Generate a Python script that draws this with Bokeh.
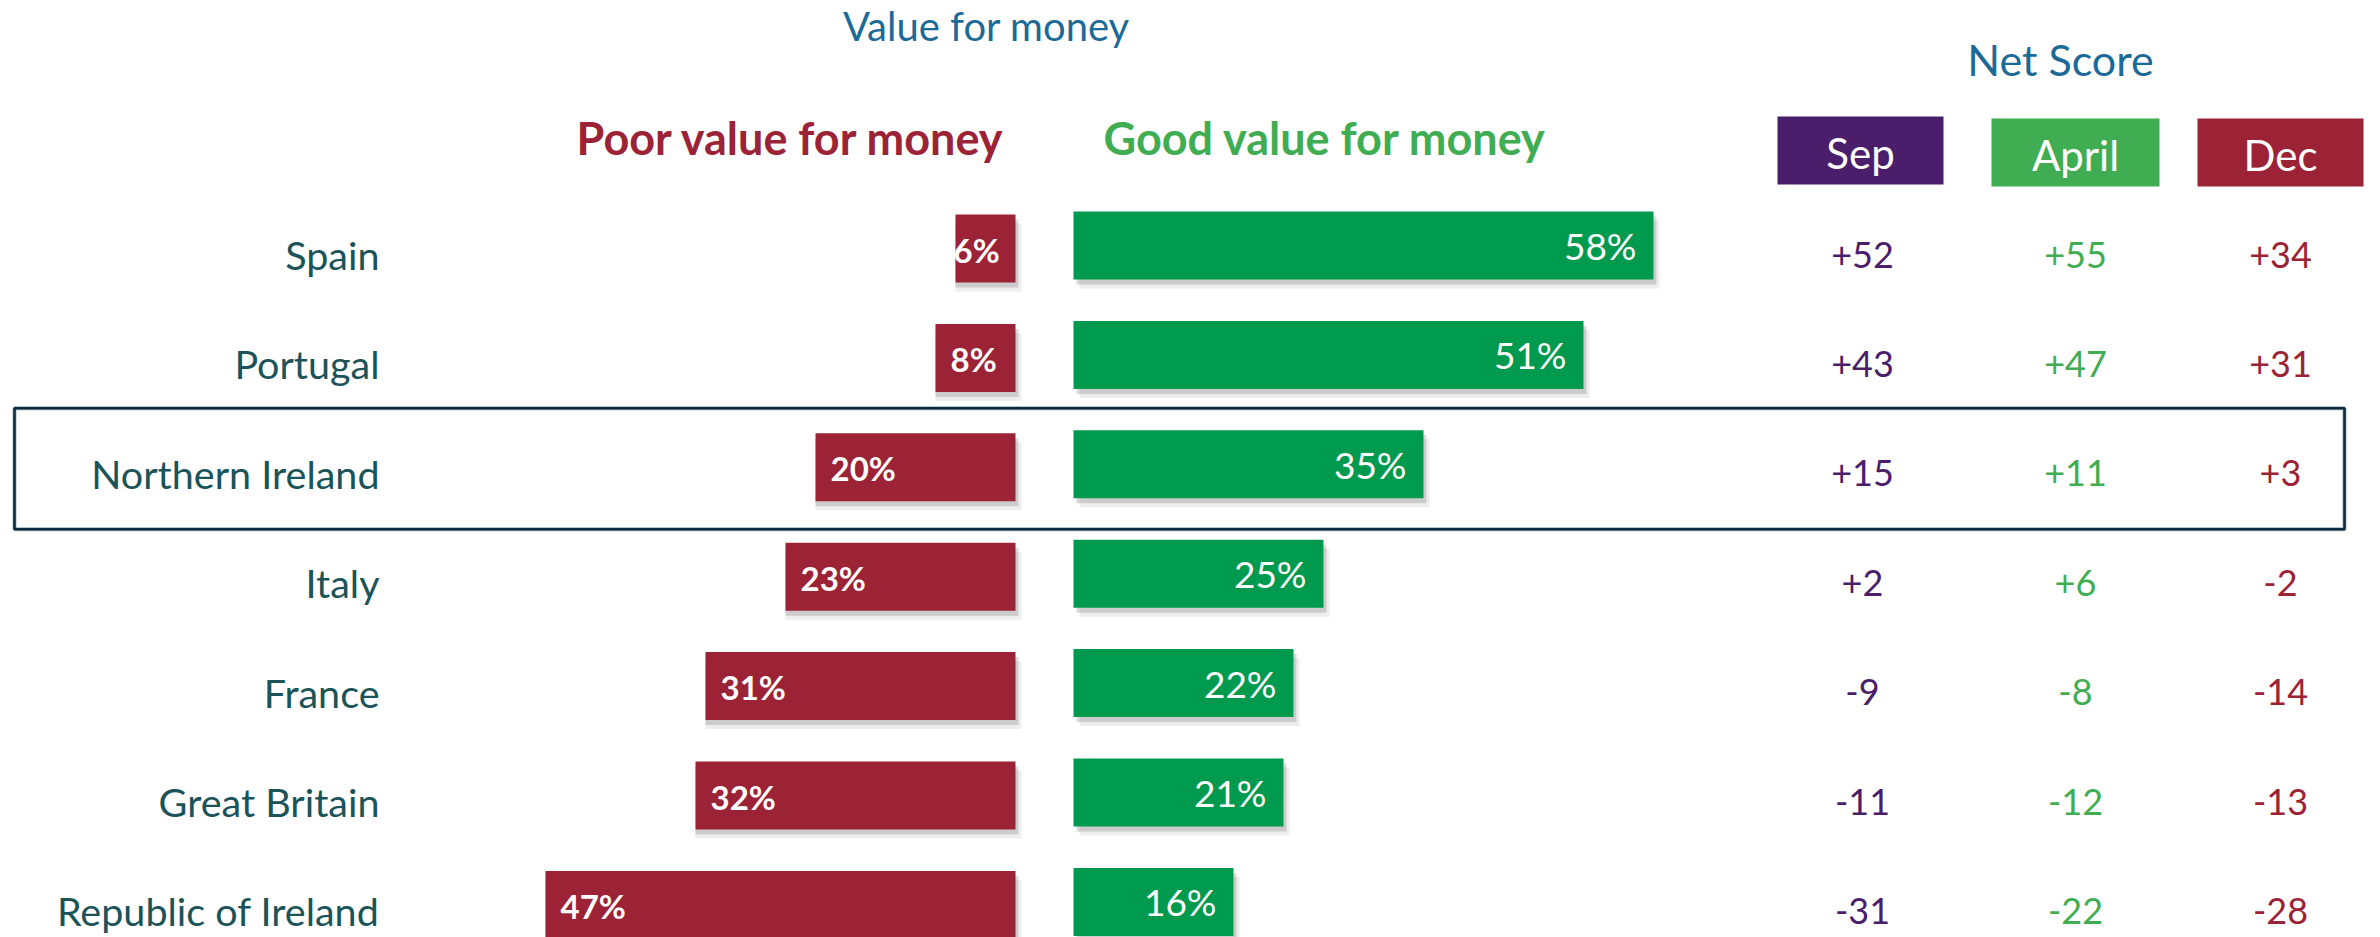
from bokeh.plotting import figure
from bokeh.models import Range1d, ColumnDataSource
from bokeh.core.properties import value
from bokeh.embed import file_html
from bokeh.resources import INLINE

# ---------------- data ----------------
countries = ["Spain", "Portugal", "Northern Ireland", "Italy", "France",
             "Great Britain", "Republic of Ireland"]
poor = [6, 8, 20, 23, 31, 32, 47]
good = [58, 51, 35, 25, 22, 21, 16]
periods = ["Sep", "April", "Dec"]
net_sep = [52, 43, 15, 2, -9, -11, -31]
net_april = [55, 47, 11, 6, -8, -12, -22]
net_dec = [34, 31, 3, -2, -14, -13, -28]
highlight = "Northern Ireland"

# ---------------- layout helpers ----------------
W, H = 2380, 937
PX_X = 10.0      # px per percentage point
PX_Y = 109.4     # px per row
X0 = 1015.0      # screen x of the divider (right edge of red bars)
Y0 = 248.0       # screen y of first row centre
OFF = 0.0        # figure origin on the page
TB = -13         # correction for text baseline placement (px)


def dx(px):
    return px / PX_X


def dy(px):
    return px / PX_Y


def sx(screen_x):
    return (screen_x - X0) / PX_X


def sy(screen_y):
    return (screen_y - Y0) / PX_Y


FONT = value("Lato")
RED = "#9C2236"
GREEN_BAR = "#009A4E"
GREEN = "#41AD52"
PURPLE = "#4A1E6B"
BLUE = "#1C6A97"
TEAL = "#1A5358"
NAVY = "#0E2A3A"

GAP = dx(58)
BAR_H = dy(68)
G_SHIFT = dy(-3)

p = figure(width=W, height=H,
           x_range=Range1d(sx(OFF), sx(OFF + W)),
           y_range=Range1d(sy(OFF + H), sy(OFF)),
           output_backend="svg", toolbar_location=None,
           x_axis_location=None, y_axis_location=None, min_border=0)
p.grid.visible = False
p.outline_line_color = None
p.background_fill_color = "white"

rows = list(range(len(countries)))
poor_left = [-v for v in poor]
src = ColumnDataSource(dict(
    y=rows,
    country=countries,
    poor_lbl=[f"{v}%" for v in poor],
    good_lbl=[f"{v}%" for v in good],
    poor_lbl_x=[-v + dx(min(15, v * PX_X - 62)) for v in poor],
    good_lbl_x=[GAP + v - dx(17) for v in good],
    y_base=[r + dy(19 + TB) for r in rows],
    y_lbl=[r + dy(14 + TB) for r in rows],
    yg_lbl=[r + G_SHIFT + dy(13 + TB) for r in rows],
))

# shadows
for ox, oy, a in [(3, 5, 0.22), (6, 9, 0.10)]:
    p.quad(left=poor_left, right=[dx(ox)] * len(rows),
           top=[r - BAR_H / 2 + dy(oy) for r in rows],
           bottom=[r + BAR_H / 2 + dy(oy) for r in rows],
           fill_color="#555555", fill_alpha=a, line_color=None)
    p.quad(left=[GAP + dx(ox)] * len(rows), right=[GAP + v + dx(ox) for v in good],
           top=[r + G_SHIFT - BAR_H / 2 + dy(oy) for r in rows],
           bottom=[r + G_SHIFT + BAR_H / 2 + dy(oy) for r in rows],
           fill_color="#555555", fill_alpha=a, line_color=None)

# bars
p.quad(left=poor_left, right=[0] * len(rows),
       top=[r - BAR_H / 2 for r in rows], bottom=[r + BAR_H / 2 for r in rows],
       fill_color=RED, line_color=None)
p.quad(left=[GAP] * len(rows), right=[GAP + v for v in good],
       top=[r + G_SHIFT - BAR_H / 2 for r in rows],
       bottom=[r + G_SHIFT + BAR_H / 2 for r in rows],
       fill_color=GREEN_BAR, line_color=None)

# bar labels
p.text(x="poor_lbl_x", y="y_lbl", text="poor_lbl", source=src,
       text_color="white", text_font=FONT, text_font_style="bold",
       text_font_size="33px", text_align="left", text_baseline="alphabetic")
p.text(x="good_lbl_x", y="yg_lbl", text="good_lbl", source=src,
       text_color="white", text_font=FONT, text_font_style="normal",
       text_font_size="37px", text_align="right", text_baseline="alphabetic")

# country labels
p.text(x=sx(379), y="y_base", text="country", source=src,
       text_color=TEAL, text_font=FONT, text_font_size="39.5px",
       text_align="right", text_baseline="alphabetic")

# net score columns
col_x = [sx(1862), sx(2075), sx(2280)]
col_colors = [PURPLE, GREEN, RED]
box_edges = [(1777, 116, 1943, 184), (1991, 118, 2159, 186), (2197, 118, 2363, 186)]
for name, vals, cx, col, (l, t, r, b) in zip(periods, [net_sep, net_april, net_dec],
                                             col_x, col_colors, box_edges):
    p.quad(left=[sx(l)], right=[sx(r)], top=[sy(t)], bottom=[sy(b)],
           fill_color=col, line_color=None)
    p.text(x=[(sx(l) + sx(r)) / 2], y=[sy((t + b) / 2 + 15 + TB)], text=[name],
           text_color="white", text_font=FONT, text_font_size="42px",
           text_align="center", text_baseline="alphabetic")
    p.text(x=[cx] * len(vals), y=[r_ + dy(19 + TB) for r_ in rows],
           text=[f"{v:+d}" for v in vals],
           text_color=col, text_font=FONT, text_font_size="36px",
           text_align="center", text_baseline="alphabetic")

# headings
p.text(x=[sx(986)], y=[sy(38 + TB)], text=["Value for money"], text_color=BLUE,
       text_font=FONT, text_font_size="40px", text_align="center",
       text_baseline="alphabetic")
p.text(x=[sx(2060)], y=[sy(72 + TB)], text=["Net Score"], text_color=BLUE,
       text_font=FONT, text_font_size="43px", text_align="center",
       text_baseline="alphabetic")
p.text(x=[sx(1005)], y=[sy(150 + TB)], text=["Poor value for money"], text_color=RED,
       text_font=FONT, text_font_style="bold", text_font_size="45px",
       text_align="right", text_baseline="alphabetic")
p.text(x=[sx(1103)], y=[sy(150 + TB)], text=["Good value for money"], text_color=GREEN,
       text_font=FONT, text_font_style="bold", text_font_size="45px",
       text_align="left", text_baseline="alphabetic")

# highlight box
hi = countries.index(highlight)
for lc, lw in [("#9fb3c2", 4), (NAVY, 2.5)]:
    p.quad(left=[sx(14)], right=[sx(2344)], top=[hi + dy(408 - 467)],
           bottom=[hi + dy(529 - 467)], fill_color=None, line_color=lc,
           line_width=lw)

open("out.html", "w").write(file_html(p, INLINE))
